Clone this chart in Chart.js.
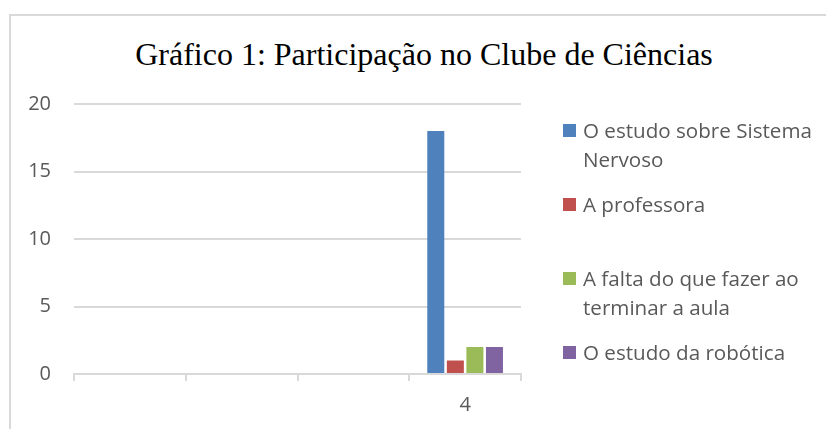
<!DOCTYPE html>
<html>
<head>
<meta charset="utf-8">
<script src="https://cdn.jsdelivr.net/npm/chart.js@4.4.0/dist/chart.umd.min.js"></script>
<style>
  html, body { margin:0; padding:0; background:#fff; overflow:hidden; width:826px; height:429px; }
  #frame { position:absolute; left:9px; top:14px; width:900px; height:500px; border-left:2px solid #d9d9d9; border-top:2px solid #d9d9d9; }
  #title { position:absolute; left:0; width:848px; top:38px; text-align:center; font-family:"Liberation Serif","Times New Roman",serif; font-size:32px; line-height:32px; color:#000; white-space:nowrap; }
  #c { position:absolute; left:0; top:0; }
  #legend { position:absolute; left:563px; top:116px; font-family:"Open Sans",sans-serif; font-size:20.6px; line-height:29px; color:#595959; }
  .item { position:relative; height:74px; padding-left:20px; white-space:nowrap; }
  .sw { position:absolute; left:0; top:8px; width:13px; height:13px; }
</style>
</head>
<body>
<div id="frame"></div>
<div id="title"></div>
<canvas id="c" width="826" height="429"></canvas>
<div id="legend"></div>
<script>
const titleText = "Gráfico 1: Participação no Clube de Ciências";
const categories = ["", "", "", "4"];
const seriesLabels = [
  ["O estudo sobre Sistema", "Nervoso"],
  ["A professora"],
  ["A falta do que fazer ao", "terminar a aula"],
  ["O estudo da robótica"]
];
const seriesValues = [
  [null, null, null, 18],
  [null, null, null, 1],
  [null, null, null, 2],
  [null, null, null, 2]
];
const seriesColors = ["#4F81BD", "#C0504D", "#9BBB59", "#8064A2"];
const yTicks = [0, 5, 10, 15, 20];

document.getElementById('title').textContent = titleText;

const tickFont = { family: "Open Sans", size: 20 };
const chart = new Chart(document.getElementById('c'), {
  type: 'bar',
  data: {
    labels: categories,
    datasets: seriesValues.map((v, i) => ({
      label: seriesLabels[i].join(' '),
      data: v,
      backgroundColor: seriesColors[i],
      borderWidth: 0,
      categoryPercentage: 0.7,
      barPercentage: 0.87
    }))
  },
  options: {
    responsive: false,
    devicePixelRatio: 1,
    animation: false,
    layout: { padding: { left: 0, top: 104, right: 305, bottom: 15 } },
    plugins: { legend: { display: false }, title: { display: false }, tooltip: { enabled: false } },
    scales: {
      x: {
        grid: { display: true, drawOnChartArea: false, drawTicks: true, tickLength: 7, color: '#d9d9d9', lineWidth: 2, offset: true },
        border: { display: true, color: '#d9d9d9', width: 2 },
        ticks: { font: tickFont, color: '#595959', padding: 12, maxRotation: 0 },
        afterFit: s => { s.height = 40; }
      },
      y: {
        min: 0, max: 20,
        afterBuildTicks: s => { s.ticks = yTicks.map(v => ({ value: v })); },
        grid: { color: '#d9d9d9', lineWidth: 2, drawTicks: false },
        border: { display: false },
        ticks: { font: tickFont, color: '#595959', padding: 23 },
        afterFit: s => { s.width = 74; }
      }
    }
  }
});

const leg = document.getElementById('legend');
chart.data.datasets.forEach((ds, i) => {
  const it = document.createElement('div');
  it.className = 'item';
  const sw = document.createElement('div');
  sw.className = 'sw';
  sw.style.background = ds.backgroundColor;
  it.appendChild(sw);
  seriesLabels[i].forEach(line => {
    const l = document.createElement('div');
    l.textContent = line;
    it.appendChild(l);
  });
  leg.appendChild(it);
});
</script>
</body>
</html>
